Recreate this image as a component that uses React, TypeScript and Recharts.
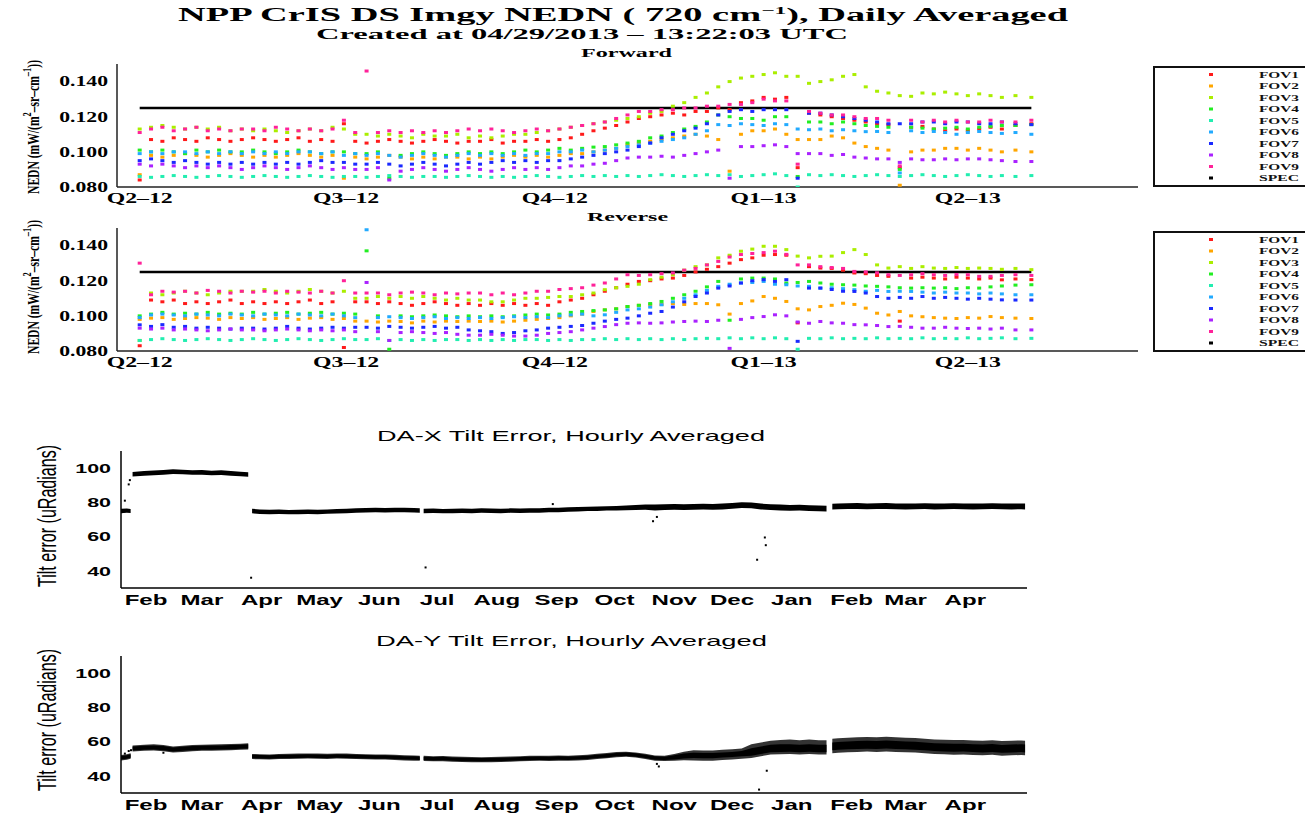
import React from "react";
import { ComposedChart, Scatter, Area, XAxis, YAxis, ReferenceLine } from "recharts";

const SERIF = "'Liberation Serif', 'Times New Roman', serif";
const SANS = "'Liberation Sans', Arial, sans-serif";

// ---------- NEDN panels (day numbers count from 2012-01-01, Apr 1 2012 = 91) ----------
const fovNames = ["FOV1", "FOV2", "FOV3", "FOV4", "FOV5", "FOV6", "FOV7", "FOV8", "FOV9"];
const fovColors = ["#ff1a1a", "#ffa600", "#aaee00", "#22ee22", "#22eeb0", "#22aaff", "#1a2aff", "#aa22ff", "#ff2299"];
const specLevel = 0.125;
const quarterTicks = [91, 182, 274, 366, 456];
const quarterLabels = ["Q2–12", "Q3–12", "Q4–12", "Q1–13", "Q2–13"];
const nednTicks = [0.08, 0.1, 0.12, 0.14];

const nednDays = [
  91, 96, 101, 106, 111, 116, 121, 126, 131, 136,
  141, 146, 151, 156, 161, 166, 171, 176, 181, 186,
  191, 196, 201, 206, 211, 216, 221, 226, 231, 236,
  241, 246, 251, 256, 261, 266, 271, 276, 281, 286,
  291, 296, 301, 306, 311, 316, 321, 326, 331, 336,
  341, 346, 351, 356, 361, 366, 371, 376, 381, 386,
  391, 396, 401, 406, 411, 416, 421, 426, 431, 436,
  441, 446, 451, 456, 461, 466, 471, 477, 484,
];

// Forward scan
const fwdFov1 = [
  .084, .107, .106, .108, .107, .106, .108, .107, .106, .107,
  .108, .107, .106, .107, .108, .106, .107, .106, .116, .106,
  .105, .106, .107, .106, .105, .106, .107, .106, .105, .106,
  .106, .107, .105, .106, .106, .107, .106, .107, .108, .110,
  .112, .1135, .115, .117, .119, .120, .121, .122, .121, .123,
  .123, .125, .124, .128, .129, .131, .130, .131, .091, .122,
  .121, .120, .119, .118, .117, .116, .1155, .091, .114, .1145,
  .113, .112, .113, .112, .113, .114, .113, .115, .116,
];
const fwdFov2 = [
  .087, .098, .097, .098, .099, .098, .097, .098, .099, .098,
  .097, .098, .097, .098, .099, .098, .097, .098, .085, .097,
  .096, .097, .098, .097, .096, .097, .096, .097, .097, .096,
  .097, .096, .097, .098, .097, .098, .097, .098, .099, .099,
  .100, .101, .102, .104, .105, .106, .107, .108, .109, .110,
  .109, .107, .089, .110, .112, .112, .113, .110, .107, .107,
  .107, .109, .108, .105, .103, .102, .101, .081, .100, .101,
  .101, .102, .102, .101, .102, .101, .100, .101, .100,
];
const fwdFov3 = [
  .113, .114, .115, .114, .113, .114, .113, .114, .112, .113,
  .112, .113, .112, .111, .112, .113, .112, .114, .113, .110,
  .110, .109, .110, .109, .108, .110, .109, .109, .110, .108,
  .109, .108, .109, .110, .110, .111, .112, .113, .114, .115,
  .116, .117, .118, .119, .120, .122, .123, .126, .128, .131,
  .1335, .137, .140, .142, .143, .144, .145, .143, .143, .139,
  .140, .141, .143, .144, .137, .1345, .1335, .132, .1316, .1335,
  .133, .134, .133, .132, .133, .132, .131, .132, .131,
];
const fwdFov4 = [
  .101, .100, .101, .100, .099, .101, .100, .101, .100, .100,
  .101, .100, .099, .100, .101, .100, .099, .100, .100, .099,
  .099, .100, .085, .098, .099, .100, .099, .098, .099, .100,
  .099, .100, .099, .100, .101, .100, .101, .102, .101, .102,
  .1027, .103, .104, .105, .106, .108, .109, .111, .113, .1145,
  .117, .121, .120, .119, .119, .118, .120, .120, .086, .117,
  .117, .116, .117, .116, .115, .1145, .114, .090, .114, .1135,
  .113, .1135, .114, .113, .114, .1145, .115, .115, .1155,
];
const fwdFov5 = [
  .086, .0855, .086, .0865, .086, .0855, .086, .0865, .086, .0855,
  .086, .0865, .086, .0855, .086, .0865, .086, .0855, .086, .086,
  .0855, .086, .0865, .086, .0855, .086, .086, .0855, .086, .0865,
  .086, .0855, .086, .0855, .086, .0865, .086, .0855, .086, .0865,
  .086, .0865, .086, .0865, .086, .0865, .087, .0865, .086, .0865,
  .087, .0865, .087, .086, .0865, .087, .0875, .0865, .080, .087,
  .0865, .087, .0865, .086, .0865, .087, .0865, .086, .0865, .087,
  .0865, .086, .0865, .087, .0865, .086, .0865, .086, .0865,
];
const fwdFov6 = [
  .099, .100, .099, .100, .100, .099, .100, .099, .100, .099,
  .100, .099, .100, .099, .100, .100, .099, .100, .098, .099,
  .098, .099, .098, .097, .098, .099, .098, .097, .098, .099,
  .098, .099, .098, .099, .098, .099, .099, .100, .100, .101,
  .100, .101, .102, .103, .104, .105, .106, .107, .108, .110,
  .112, .1155, .115, .116, .1155, .115, .116, .1155, .113, .1126,
  .113, .112, .1126, .112, .1115, .1116, .111, .088, .112, .111,
  .1116, .111, .110, .111, .1116, .111, .1105, .111, .110,
];
const fwdFov7 = [
  .095, .096, .095, .094, .095, .094, .093, .094, .093, .094,
  .093, .094, .093, .094, .093, .094, .095, .094, .094, .093,
  .093, .094, .093, .092, .093, .094, .093, .092, .093, .094,
  .093, .094, .095, .094, .095, .094, .095, .095, .096, .097,
  .098, .099, .100, .101, .103, .105, .108, .110, .112, .1135,
  .116, .121, .123, .124, .123, .124, .124, .124, .085, .122,
  .122, .121, .120, .119, .118, .117, .116, .116, .116, .117,
  .117, .116, .117, .117, .116, .116, .117, .116, .1155,
];
const fwdFov8 = [
  .093, .092, .093, .092, .091, .092, .091, .092, .091, .090,
  .091, .092, .091, .090, .091, .092, .091, .090, .091, .090,
  .090, .091, .084, .089, .090, .091, .090, .089, .090, .091,
  .090, .089, .090, .091, .090, .091, .090, .091, .092, .092,
  .093, .0935, .095, .0965, .097, .097, .0975, .097, .098, .099,
  .100, .101, .085, .103, .103, .1035, .104, .103, .099, .099,
  .099, .098, .0985, .097, .0965, .096, .096, .094, .096, .0955,
  .0955, .096, .0955, .096, .096, .0955, .095, .0945, .0945,
];
const fwdFov9 = [
  .111, .113, .114, .112, .113, .114, .112, .113, .112, .113,
  .113, .112, .114, .113, .112, .113, .112, .113, .118, .111,
  .146, .111, .112, .111, .112, .111, .112, .111, .112, .113,
  .112, .113, .112, .111, .112, .113, .112, .113, .114, .115,
  .116, .117, .119, .121, .123, .123, .124, .124, .125, .125,
  .126, .126, .127, .127, .128, .130, .129, .129, .093, .123,
  .122, .121, .121, .120, .119, .119, .118, .092, .118, .117,
  .118, .117, .118, .117, .117, .118, .117, .117, .118,
];

// Reverse scan
const revFov1 = [
  .083, .109, .108, .109, .107, .108, .107, .108, .109, .107,
  .108, .107, .108, .107, .108, .109, .107, .108, .082, .108,
  .108, .107, .108, .107, .106, .107, .108, .107, .106, .107,
  .106, .107, .106, .107, .106, .107, .106, .108, .109, .110,
  .112, .114, .116, .118, .1196, .120, .121, .1215, .123, .125,
  .1265, .128, .130, .132, .133, .1345, .1349, .1345, .096, .128,
  .1272, .127, .126, .1244, .124, .123, .1225, .097, .1215, .122,
  .1215, .121, .122, .1215, .121, .1215, .1205, .121, .1206,
];
const revFov2 = [
  .098, .0987, .099, .098, .0985, .099, .0987, .098, .099, .0985,
  .099, .098, .0985, .099, .098, .0987, .099, .098, .0985, .097,
  .097, .0965, .097, .0968, .096, .097, .0965, .097, .0968, .097,
  .0968, .097, .0965, .097, .0975, .098, .0985, .099, .100, .101,
  .1025, .1034, .104, .1053, .106, .1063, .1065, .107, .1065, .107,
  .107, .1063, .101, .107, .1085, .111, .110, .1082, .104, .1034,
  .1053, .106, .1072, .1065, .1044, .1015, .1005, .1025, .100, .0995,
  .099, .0987, .0985, .099, .0987, .0996, .099, .0987, .0985,
];
const revFov3 = [
  .086, .113, .112, .113, .114, .113, .112, .113, .114, .114,
  .114, .115, .114, .113, .114, .115, .114, .113, .114, .110,
  .110, .111, .110, .111, .110, .111, .110, .109, .110, .109,
  .109, .108, .108, .109, .110, .110, .1105, .111, .111, .112,
  .113, .1149, .116, .1168, .118, .1206, .122, .1234, .126, .128,
  .129, .133, .1345, .1368, .138, .1396, .1396, .1377, .134, .133,
  .1339, .134, .136, .1377, .1349, .129, .1272, .128, .127, .128,
  .1272, .127, .1275, .127, .1272, .127, .1265, .127, .1263,
];
const revFov4 = [
  .100, .101, .102, .101, .1015, .101, .102, .101, .1015, .101,
  .102, .101, .1015, .102, .101, .1015, .102, .101, .1015, .101,
  .137, .100, .081, .100, .0995, .100, .1005, .100, .0995, .100,
  .0995, .100, .0995, .100, .1005, .101, .1005, .101, .102, .1025,
  .103, .1034, .104, .1053, .106, .107, .1082, .110, .112, .114,
  .1165, .1196, .0975, .121, .1215, .1215, .121, .1187, .119, .1196,
  .1187, .118, .1177, .1175, .117, .1168, .1165, .116, .1158, .116,
  .1158, .116, .1155, .116, .1158, .1165, .117, .1175, .1177,
];
const revFov5 = [
  .086, .0865, .087, .0865, .086, .0865, .087, .0865, .086, .0865,
  .087, .0865, .086, .0865, .087, .0865, .086, .0865, .087, .0865,
  .0865, .087, .086, .0865, .086, .0865, .086, .0865, .0865, .086,
  .0865, .086, .0865, .086, .0865, .0865, .086, .0865, .086, .0865,
  .0865, .087, .0865, .087, .0865, .087, .0865, .087, .0865, .087,
  .0872, .087, .0875, .087, .0875, .087, .0875, .087, .081, .0872,
  .087, .0875, .087, .0872, .087, .0875, .087, .0872, .087, .0875,
  .087, .0872, .087, .0875, .087, .0872, .0875, .087, .0872,
];
const revFov6 = [
  .099, .1005, .101, .1005, .100, .101, .1005, .100, .101, .1005,
  .100, .101, .1005, .100, .101, .1005, .100, .101, .100, .099,
  .149, .099, .0995, .099, .0985, .099, .0995, .0985, .099, .0985,
  .099, .0985, .099, .0995, .099, .0995, .099, .100, .1005, .101,
  .100, .1006, .102, .1034, .104, .105, .1063, .108, .110, .112,
  .1145, .1168, .118, .1187, .119, .1196, .118, .1177, .117, .1168,
  .1158, .116, .1155, .1149, .114, .1145, .1139, .114, .1139, .1135,
  .113, .1135, .113, .113, .1125, .113, .1125, .112, .112,
];
const revFov7 = [
  .0949, .094, .095, .0935, .094, .093, .0935, .093, .0925, .093,
  .093, .0925, .093, .094, .093, .0925, .093, .0935, .093, .0935,
  .0935, .093, .094, .0935, .093, .0935, .094, .093, .0935, .092,
  .0915, .091, .090, .0905, .0915, .092, .093, .0935, .094, .0945,
  .0958, .097, .098, .0987, .100, .1015, .1025, .105, .108, .111,
  .113, .1158, .117, .1187, .120, .1206, .1196, .1206, .0855, .1158,
  .1158, .115, .114, .1139, .113, .111, .110, .1105, .110, .111,
  .110, .1105, .110, .1095, .110, .1095, .1091, .109, .109,
];
const revFov8 = [
  .093, .0925, .093, .092, .0925, .092, .0915, .092, .0925, .092,
  .092, .0915, .092, .0925, .092, .0915, .092, .0915, .092, .091,
  .119, .091, .086, .0905, .091, .0905, .090, .0905, .0895, .089,
  .089, .0895, .089, .0885, .0885, .089, .090, .0905, .091, .092,
  .093, .0939, .095, .0958, .096, .0958, .096, .0965, .0968, .097,
  .0968, .0975, .0815, .098, .099, .0996, .1006, .100, .0965, .0958,
  .0968, .096, .0958, .095, .0949, .0945, .0939, .094, .0935, .093,
  .093, .0935, .093, .0928, .093, .0925, .093, .092, .092,
];
const revFov9 = [
  .130, .112, .114, .1135, .114, .113, .1145, .114, .113, .114,
  .1135, .114, .113, .114, .1135, .113, .114, .113, .120, .113,
  .113, .113, .112, .113, .1135, .113, .112, .113, .1125, .113,
  .113, .112, .113, .112, .113, .114, .114, .115, .1155, .116,
  .1175, .1187, .121, .1234, .123, .1234, .124, .1244, .126, .127,
  .129, .131, .1335, .1349, .1355, .136, .1368, .135, .129, .129,
  .128, .1275, .127, .1253, .125, .1245, .1234, .123, .1234, .124,
  .1234, .123, .1235, .1234, .1225, .1225, .123, .1234, .123,
];

const fwdSeries = [fwdFov1, fwdFov2, fwdFov3, fwdFov4, fwdFov5, fwdFov6, fwdFov7, fwdFov8, fwdFov9];
const revSeries = [revFov1, revFov2, revFov3, revFov4, revFov5, revFov6, revFov7, revFov8, revFov9];

// ---------- Tilt error panels (same day numbering; null = data gap) ----------
const monthTicks = [31, 60, 91, 121, 152, 182, 213, 244, 274, 305, 335, 366, 397, 425, 456];
const monthLabels = ["Feb", "Mar", "Apr", "May", "Jun", "Jul", "Aug", "Sep", "Oct", "Nov", "Dec", "Jan", "Feb", "Mar", "Apr"];
const midMonthTicks = [45, 74, 105, 135, 166, 196, 227, 258, 288, 319, 349, 380, 411, 439, 470];
const tiltMajor = [40, 60, 80, 100];
const tiltMinor = [50, 70, 90];
const tiltAll = [40, 50, 60, 70, 80, 90, 100];

const tiltDays = [
  18, 21, 23, 23.5,
  24, 30, 35, 40, 45, 50, 55, 60, 65, 70, 75, 80, 84, 85,
  86, 90, 95, 100, 105, 110, 115, 120, 125, 130, 135, 140, 145, 150, 155, 160, 165, 170, 173, 174,
  175, 180, 185, 190, 195, 200, 205, 210, 215, 220, 225, 230,
  235, 240, 245, 250, 255, 260, 265, 270, 275, 280, 285, 290,
  295, 300, 305, 310, 315, 320, 325, 330, 335, 340, 345, 350, 355, 360, 365, 370, 375, 380, 384, 385.5,
  387, 390, 395, 400, 405, 410, 415, 420, 425, 430, 435, 440, 445, 450, 455, 460, 465, 470, 475, 480, 485, 487,
];

const daxLo = [
  73.7, 74.0, 73.8, null,
  95.1, 95.6, 95.9, 96.2, 96.5, 96.4, 96.1, 96.2, 95.8, 96.0, 95.6, 95.2, 94.9, null,
  73.6, 73.2, 73.1, 73.2, 73.0, 73.1, 73.2, 73.1, 73.3, 73.5, 73.7, 73.9, 74.1, 74.2, 74.1, 74.3, 74.2, 74.1, 74.0, null,
  73.7, 73.8, 73.6, 73.7, 73.8, 73.7, 73.9, 73.8, 73.7, 73.9, 73.8, 73.9,
  74.0, 74.2, 74.3, 74.5, 74.7, 74.9, 75.0, 75.2, 75.3, 75.4, 75.6, 75.7,
  75.3, 75.5, 75.7, 75.5, 75.7, 75.8, 75.7, 75.9, 76.3, 76.7, 76.5, 75.9, 75.5, 75.3, 75.1, 75.2, 74.9, 74.8, 74.7, null,
  75.8, 76.0, 76.1, 76.2, 76.0, 76.1, 76.2, 76.0, 75.9, 76.0, 76.1, 75.9, 76.0, 76.1, 76.0, 75.9, 76.0, 76.1, 76.0, 75.9, 76.0, 75.9,
];
const daxHi = [
  76.3, 76.4, 76.2, null,
  97.8, 98.3, 98.6, 98.9, 99.3, 99.1, 98.8, 98.9, 98.5, 98.7, 98.3, 97.9, 97.6, null,
  76.3, 75.9, 75.7, 75.8, 75.6, 75.7, 75.8, 75.7, 75.9, 76.1, 76.3, 76.5, 76.7, 76.8, 76.7, 76.9, 76.8, 76.7, 76.6, null,
  76.3, 76.4, 76.2, 76.3, 76.4, 76.3, 76.5, 76.4, 76.3, 76.5, 76.4, 76.5,
  76.6, 76.8, 76.9, 77.1, 77.3, 77.5, 77.6, 77.8, 77.9, 78.2, 78.4, 78.7,
  78.7, 78.9, 79.1, 78.9, 79.1, 79.2, 79.1, 79.3, 79.7, 80.1, 79.9, 79.3, 78.9, 78.7, 78.5, 78.6, 78.3, 78.2, 78.1, null,
  79.2, 79.4, 79.5, 79.6, 79.4, 79.5, 79.6, 79.4, 79.3, 79.4, 79.5, 79.3, 79.4, 79.5, 79.4, 79.3, 79.4, 79.5, 79.4, 79.3, 79.4, 79.3,
];

// DA-Y: dense core of the hourly points and the looser spread around it
const dayCoreLo = [
  49.6, 50.0, 50.6, null,
  54.8, 55.2, 55.4, 55.0, 54.2, 54.6, 55.0, 55.2, 55.3, 55.4, 55.6, 55.8, 56.0, null,
  50.3, 50.2, 50.0, 50.3, 50.4, 50.5, 50.6, 50.5, 50.4, 50.6, 50.5, 50.3, 50.2, 50.0, 50.0, 49.8, 49.5, 49.4, 49.3, null,
  49.2, 49.0, 49.1, 48.8, 48.6, 48.5, 48.4, 48.5, 48.6, 48.8, 49.0, 49.2,
  49.3, 49.2, 49.4, 49.3, 49.5, 49.8, 50.4, 50.8, 51.4, 51.6, 51.2, 50.4,
  49.4, 49.2, 49.6, 50.1, 50.5, 50.3, 50.3, 50.7, 51.0, 51.5, 51.8, 52.8, 53.8, 54.0, 54.1, 53.8, 54.1, 53.8, 53.8, null,
  54.9, 55.2, 55.5, 55.7, 55.9, 55.7, 56.0, 55.7, 55.5, 55.3, 54.9, 54.5, 54.3, 54.1, 54.2, 53.9, 53.7, 54.0, 53.5, 53.7, 53.9, 53.7,
];
const dayCoreHi = [
  51.6, 52.0, 52.6, null,
  57.2, 57.6, 57.8, 57.4, 56.6, 57.0, 57.4, 57.6, 57.7, 57.8, 58.0, 58.2, 58.4, null,
  52.3, 52.2, 52.0, 52.3, 52.4, 52.5, 52.6, 52.5, 52.4, 52.6, 52.5, 52.3, 52.2, 52.0, 52.0, 51.8, 51.5, 51.4, 51.3, null,
  51.2, 51.0, 51.1, 50.8, 50.6, 50.5, 50.4, 50.5, 50.6, 50.8, 51.0, 51.2,
  51.3, 51.2, 51.4, 51.3, 51.5, 51.8, 52.4, 52.8, 53.4, 53.6, 53.2, 52.4,
  51.4, 51.2, 52.0, 53.1, 53.5, 53.3, 53.3, 53.7, 54.0, 54.5, 56.2, 57.2, 58.2, 58.4, 58.5, 58.2, 58.5, 58.2, 58.2, null,
  59.5, 59.8, 60.1, 60.3, 60.5, 60.3, 60.6, 60.3, 60.1, 59.9, 59.5, 59.1, 58.9, 58.7, 58.8, 58.5, 58.3, 58.6, 58.1, 58.3, 58.5, 58.3,
];
const dayOuterLo = [
  49.0, 49.4, 50.0, null,
  54.2, 54.6, 54.8, 54.4, 53.6, 54.0, 54.4, 54.6, 54.7, 54.8, 55.0, 55.2, 55.4, null,
  49.8, 49.7, 49.5, 49.8, 49.9, 50.0, 50.1, 50.0, 49.9, 50.1, 50.0, 49.8, 49.7, 49.5, 49.5, 49.3, 49.0, 48.9, 48.8, null,
  48.7, 48.5, 48.6, 48.3, 48.1, 48.0, 47.9, 48.0, 48.1, 48.3, 48.5, 48.7,
  48.8, 48.7, 48.9, 48.8, 49.0, 49.3, 49.9, 50.3, 50.9, 51.1, 50.7, 49.9,
  48.9, 48.7, 48.8, 49.1, 49.0, 48.8, 48.8, 49.2, 49.5, 50.0, 50.5, 51.5, 52.5, 52.7, 52.8, 52.5, 52.8, 52.5, 52.5, null,
  53.2, 53.5, 53.8, 54.0, 54.2, 54.0, 54.3, 54.0, 53.8, 53.6, 53.2, 52.8, 52.6, 52.4, 52.5, 52.2, 52.0, 52.3, 51.8, 52.0, 52.2, 52.0,
];
const dayOuterHi = [
  52.2, 52.6, 53.2, null,
  57.8, 58.2, 58.4, 58.0, 57.2, 57.6, 58.0, 58.2, 58.3, 58.4, 58.6, 58.8, 59.0, null,
  52.8, 52.7, 52.5, 52.8, 52.9, 53.0, 53.1, 53.0, 52.9, 53.1, 53.0, 52.8, 52.7, 52.5, 52.5, 52.3, 52.0, 51.9, 51.8, null,
  51.7, 51.5, 51.6, 51.3, 51.1, 51.0, 50.9, 51.0, 51.1, 51.3, 51.5, 51.7,
  51.8, 51.7, 51.9, 51.8, 52.0, 52.3, 52.9, 53.3, 53.9, 54.1, 53.7, 52.9,
  51.9, 51.7, 52.8, 54.1, 55.0, 54.8, 54.8, 55.2, 55.5, 56.0, 58.5, 59.5, 60.5, 61.0, 61.2, 60.8, 61.2, 60.8, 60.8, null,
  61.7, 62.0, 62.3, 62.5, 62.7, 62.5, 62.8, 62.5, 62.3, 62.1, 61.7, 61.3, 61.1, 60.9, 61.0, 60.7, 60.5, 60.8, 60.3, 60.5, 60.7, 60.5,
];

// isolated hourly points away from the main band
const daxOutDays = [20, 22, 22.6, 85.5, 176, 242, 294, 296, 348, 352, 352.5];
const daxOutVals = [81, 90.5, 93, 36, 42, 79, 69, 71.5, 46.5, 59.5, 55];
const dayOutDays = [20, 22, 23.2, 40, 296, 297, 349, 353];
const dayOutVals = [53, 54.5, 55, 53.5, 47, 45.5, 32, 43];

// ---------- tick renderers ----------
const nednYTick = (p: any) => (
  <g transform={`translate(${p.x},${p.y}) scale(1.55,1)`}>
    <text textAnchor="end" dy="0.35em" fontFamily={SERIF} fontWeight="bold" fontSize={14} fill="#000">
      {Number(p.payload.value).toFixed(3)}
    </text>
  </g>
);
const quarterTick = (p: any) => (
  <g transform={`translate(${p.x},${p.y}) scale(1.7,1)`}>
    <text textAnchor="middle" dy="0.71em" fontFamily={SERIF} fontWeight="bold" fontSize={14} fill="#000">
      {quarterLabels[quarterTicks.indexOf(p.payload.value)]}
    </text>
  </g>
);
const tiltYTick = (p: any) => (
  <g transform={`translate(${p.x},${p.y}) scale(1.65,1)`}>
    <text textAnchor="end" dy="0.36em" fontFamily={SANS} fontWeight="bold" fontSize={13} fill="#000">
      {p.payload.value}
    </text>
  </g>
);
const monthTick = (p: any) => (
  <g transform={`translate(${p.x},${p.y}) scale(1.72,1)`}>
    <text textAnchor="middle" dy="0.71em" fontFamily={SANS} fontWeight="bold" fontSize={14} fill="#000">
      {monthLabels[monthTicks.indexOf(p.payload.value)]}
    </text>
  </g>
);

const square = (color: string, w: number, h: number) => (p: any) =>
  <rect x={p.cx - w / 2} y={p.cy - h / 2} width={w} height={h} fill={color} />;

// ---------- panels ----------
function NednPanel({ top, series }: { top: number; series: number[][] }) {
  const xDom = [81, 531];
  const frame = { stroke: "#222", strokeWidth: 1.5 };
  const last = nednDays.length - 1;
  return (
    <div style={{ position: "absolute", left: 0, top: top - 10 }}>
      <ComposedChart width={1150} height={157} margin={{ top: 10, right: 12, bottom: 0, left: 0 }}>
        <XAxis xAxisId="b" dataKey="day" type="number" domain={xDom} ticks={quarterTicks} allowDataOverflow
          height={24} tickSize={4} tickMargin={2} tickLine={false} axisLine={frame} tick={quarterTick} />
        <XAxis xAxisId="bm" dataKey="day" type="number" domain={xDom} ticks={quarterTicks} allowDataOverflow
          orientation="bottom" mirror height={0} tick={false} tickSize={5} axisLine={false} tickLine={{ stroke: "#222" }} />
        <XAxis xAxisId="t" dataKey="day" type="number" domain={xDom} ticks={quarterTicks} allowDataOverflow
          orientation="top" mirror height={0} tick={false} tickSize={5} axisLine={frame} tickLine={{ stroke: "#222" }} />
        <YAxis yAxisId="l" type="number" domain={[0.08, 0.15]} ticks={nednTicks} allowDataOverflow
          width={117} tickSize={6} tickMargin={3} tickLine={false} axisLine={frame} tick={nednYTick} />
        <YAxis yAxisId="lm" type="number" domain={[0.08, 0.15]} ticks={nednTicks} allowDataOverflow
          orientation="left" mirror width={0} tick={false} tickSize={5} axisLine={false} tickLine={{ stroke: "#222" }} />
        <YAxis yAxisId="r" type="number" domain={[0.08, 0.15]} ticks={nednTicks} allowDataOverflow
          orientation="right" mirror width={0} tick={false} tickSize={5} axisLine={frame} tickLine={{ stroke: "#222" }} />
        <ReferenceLine xAxisId="b" yAxisId="l" stroke="#000" strokeWidth={2.5}
          segment={[{ x: nednDays[0], y: specLevel }, { x: nednDays[last], y: specLevel }]} />
        {series.map((vals, k) => (
          <Scatter key={fovNames[k]} name={fovNames[k]} xAxisId="b" yAxisId="l" dataKey="v"
            data={nednDays.map((day, i) => ({ day, v: vals[i] }))}
            fill={fovColors[k]} shape={square(fovColors[k], 4, 3)} isAnimationActive={false} />
        ))}
      </ComposedChart>
    </div>
  );
}

type Band = { lo: (number | null)[]; hi: (number | null)[]; opacity: number };

function TiltPanel({ top, bands, outDays, outVals }: { top: number; bands: Band[]; outDays: number[]; outVals: number[] }) {
  const xDom = [18, 488];
  const yDom = [30, 110];
  const frame = { stroke: "#000", strokeWidth: 1.5 };
  const rows = tiltDays.map((day, i) => {
    const row: any = { day };
    bands.forEach((b, k) => {
      row["b" + k] = b.lo[i] == null ? null : [b.lo[i], b.hi[i]];
    });
    return row;
  });
  return (
    <div style={{ position: "absolute", left: 0, top: top - 10 }}>
      <ComposedChart width={1040} height={173} data={rows} margin={{ top: 10, right: 13, bottom: 0, left: 0 }}>
        <XAxis xAxisId="b" dataKey="day" type="number" domain={xDom} ticks={monthTicks} allowDataOverflow
          height={26} tickSize={5} tickMargin={2} tickLine={false} axisLine={frame} tick={monthTick} />
        <XAxis xAxisId="bm" dataKey="day" type="number" domain={xDom} ticks={monthTicks} allowDataOverflow
          orientation="bottom" mirror height={0} tick={false} tickSize={6} axisLine={false} tickLine={{ stroke: "#000" }} />
        <XAxis xAxisId="bn" dataKey="day" type="number" domain={xDom} ticks={midMonthTicks} allowDataOverflow
          orientation="bottom" mirror height={0} tick={false} tickSize={3} axisLine={false} tickLine={{ stroke: "#000" }} />
        <XAxis xAxisId="t" dataKey="day" type="number" domain={xDom} ticks={monthTicks} allowDataOverflow
          orientation="top" mirror height={0} tick={false} tickSize={6} axisLine={frame} tickLine={{ stroke: "#000" }} />
        <XAxis xAxisId="tn" dataKey="day" type="number" domain={xDom} ticks={midMonthTicks} allowDataOverflow
          orientation="top" mirror height={0} tick={false} tickSize={3} axisLine={false} tickLine={{ stroke: "#000" }} />
        <YAxis yAxisId="l" type="number" domain={yDom} ticks={tiltMajor} allowDataOverflow
          width={121} tickSize={7} tickMargin={3} tickLine={false} axisLine={frame} tick={tiltYTick} />
        <YAxis yAxisId="lm" type="number" domain={yDom} ticks={tiltMajor} allowDataOverflow
          orientation="left" mirror width={0} tick={false} tickSize={7} axisLine={false} tickLine={{ stroke: "#000" }} />
        <YAxis yAxisId="ln" type="number" domain={yDom} ticks={tiltMinor} allowDataOverflow
          orientation="left" mirror width={0} tick={false} tickSize={4} axisLine={false} tickLine={{ stroke: "#000" }} />
        <YAxis yAxisId="r" type="number" domain={yDom} ticks={tiltAll} allowDataOverflow
          orientation="right" mirror width={0} tick={false} tickSize={5} axisLine={frame} tickLine={{ stroke: "#000" }} />
        {bands.map((b, k) => (
          <Area key={k} xAxisId="b" yAxisId="l" dataKey={"b" + k} type="linear" stroke="none"
            fill="#000" fillOpacity={b.opacity} connectNulls={false} dot={false} activeDot={false}
            isAnimationActive={false} />
        ))}
        <Scatter xAxisId="b" yAxisId="l" dataKey="v" data={outDays.map((day, i) => ({ day, v: outVals[i] }))}
          fill="#000" shape={square("#000", 2, 2)} isAnimationActive={false} />
      </ComposedChart>
    </div>
  );
}

function LegendBox({ top }: { top: number }) {
  const names = [...fovNames, "SPEC"];
  const colors = [...fovColors, "#000"];
  return (
    <g>
      <rect x={1154} y={top} width={170} height={119} fill="#fff" stroke="#111" strokeWidth={2} />
      {names.map((n, i) => {
        const y = top + 7.5 + i * 11.5;
        return (
          <g key={n}>
            <rect x={1209} y={y - 1.5} width={4} height={3} fill={colors[i]} />
            <text x={1259} y={y + 3} fontFamily={SERIF} fontWeight="bold" fontSize={8} fill="#111"
              textLength={40} lengthAdjust="spacingAndGlyphs">{n}</text>
          </g>
        );
      })}
    </g>
  );
}

function NednYLabel({ cy }: { cy: number }) {
  return (
    <text transform={`translate(39,${cy}) scale(1.6,1) rotate(-90)`} textAnchor="middle" fontFamily={SERIF}
      fontWeight="bold" fontSize={11} fill="#000" textLength={134} lengthAdjust="spacingAndGlyphs">
      NEDN (mW/(m<tspan dy={-5} fontSize={8}>2</tspan><tspan dy={5}>–sr–cm</tspan>
      <tspan dy={-5} fontSize={8}>–1</tspan><tspan dy={5}>))</tspan>
    </text>
  );
}

function TiltYLabel({ cy }: { cy: number }) {
  return (
    <text transform={`translate(56,${cy}) scale(1.8,1) rotate(-90)`} textAnchor="middle" fontFamily={SANS}
      fontSize={14} fill="#000" textLength={142} lengthAdjust="spacingAndGlyphs">
      Tilt error (uRadians)
    </text>
  );
}

export default function App() {
  return (
    <div style={{ position: "absolute", left: 0, top: 0, width: 1305, height: 817, background: "#fff", overflow: "hidden" }}>
      <NednPanel top={64} series={fwdSeries} />
      <NednPanel top={228} series={revSeries} />
      <TiltPanel top={451} bands={[{ lo: daxLo, hi: daxHi, opacity: 1 }]} outDays={daxOutDays} outVals={daxOutVals} />
      <TiltPanel top={656}
        bands={[{ lo: dayOuterLo, hi: dayOuterHi, opacity: 0.8 }, { lo: dayCoreLo, hi: dayCoreHi, opacity: 1 }]}
        outDays={dayOutDays} outVals={dayOutVals} />
      <svg width={1305} height={817} style={{ position: "absolute", left: 0, top: 0, pointerEvents: "none" }}>
        <text x={178} y={20.5} fontFamily={SERIF} fontWeight="bold" fontSize={18} fill="#000"
          textLength={890} lengthAdjust="spacingAndGlyphs">
          NPP CrIS DS Imgy NEDN ( 720 cm<tspan dy={-7} fontSize={11}>−1</tspan><tspan dy={7}>), Daily Averaged</tspan>
        </text>
        <text x={316} y={38.5} fontFamily={SERIF} fontWeight="bold" fontSize={15} fill="#000"
          textLength={532} lengthAdjust="spacingAndGlyphs">Created at 04/29/2013 – 13:22:03 UTC</text>
        <text x={581} y={57} fontFamily={SERIF} fontWeight="bold" fontSize={12} fill="#000"
          textLength={91} lengthAdjust="spacingAndGlyphs">Forward</text>
        <text x={587} y={221} fontFamily={SERIF} fontWeight="bold" fontSize={12} fill="#000"
          textLength={81} lengthAdjust="spacingAndGlyphs">Reverse</text>
        <NednYLabel cy={127} />
        <NednYLabel cy={287} />
        <LegendBox top={67} />
        <LegendBox top={232} />
        <text x={377} y={441} fontFamily={SANS} fontSize={15} fill="#000"
          textLength={388} lengthAdjust="spacingAndGlyphs">DA-X Tilt Error, Hourly Averaged</text>
        <text x={376} y={646} fontFamily={SANS} fontSize={15} fill="#000"
          textLength={391} lengthAdjust="spacingAndGlyphs">DA-Y Tilt Error, Hourly Averaged</text>
        <TiltYLabel cy={516} />
        <TiltYLabel cy={720} />
      </svg>
    </div>
  );
}
